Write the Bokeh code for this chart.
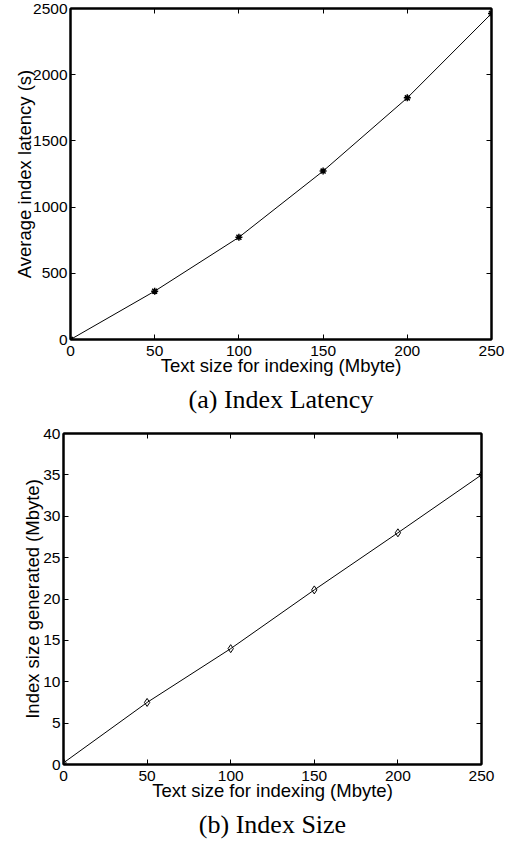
from bokeh.plotting import figure
from bokeh.models import LinearAxis, Title, FixedTicker, CustomJSTickFormatter, Range1d
from bokeh.embed import file_html
from bokeh.resources import INLINE

# ---- data ----
text_size = [0, 50, 100, 150, 200, 250]
latency = [0, 365, 772, 1272, 1825, 2462]
index_size = [0.2, 7.5, 14.0, 21.1, 28.0, 35.0]

x_ticks = [0, 50, 100, 150, 200, 250]
lat_ticks = [0, 500, 1000, 1500, 2000, 2500]
size_ticks = [0, 5, 10, 15, 20, 25, 30, 35, 40]

SANS = "Liberation Sans"
SERIF = "Liberation Serif"


def style_axis(ax, ticks, show_labels=True):
    ax.ticker = FixedTicker(ticks=ticks)
    ax.axis_line_width = 2
    ax.axis_line_color = "black"
    ax.major_tick_in = 5
    ax.major_tick_out = 0
    ax.major_tick_line_width = 1
    ax.minor_tick_in = 0
    ax.minor_tick_out = 0
    ax.major_label_text_font = SANS
    ax.major_label_text_color = "black"
    ax.axis_label_text_font = SANS
    ax.axis_label_text_font_style = "normal"
    ax.axis_label_text_color = "black"
    ax.axis_label_text_font_size = "18.5px"
    if show_labels:
        ax.major_label_text_font_size = "15.5px"
        ax.major_label_standoff = 6
    else:
        ax.formatter = CustomJSTickFormatter(code="return ''")
        ax.major_label_text_font_size = "0px"
        ax.major_label_standoff = 0
        ax.axis_label_standoff = 0


def make_fig(width, height, xr, yr, xt, yt, xlabel, ylabel, caption,
             bl, br, bt, ylab_standoff):
    p = figure(width=width, height=height, output_backend="svg",
               toolbar_location=None, x_range=Range1d(*xr), y_range=Range1d(*yr),
               min_border_left=bl, min_border_right=br, min_border_top=bt,
               min_border_bottom=0)
    p.xgrid.visible = False
    p.ygrid.visible = False
    p.outline_line_color = "black"
    p.outline_line_width = 2
    style_axis(p.xaxis[0], xt)
    style_axis(p.yaxis[0], yt)
    p.xaxis[0].axis_label = xlabel
    p.yaxis[0].axis_label = ylabel
    p.xaxis[0].axis_label_standoff = -4
    p.yaxis[0].axis_label_standoff = ylab_standoff
    p.yaxis[0].major_label_standoff = 3
    top = LinearAxis()
    right = LinearAxis()
    style_axis(top, xt, show_labels=False)
    style_axis(right, yt, show_labels=False)
    p.add_layout(top, "above")
    p.add_layout(right, "right")
    t = Title(text=caption, align="center", text_font=SERIF,
              text_font_size="26px", text_font_style="normal",
              text_color="black", standoff=9, offset=0)
    p.add_layout(t, "below")
    return p


p1 = make_fig(505, 418, (0, 250), (0, 2500), x_ticks, lat_ticks,
              "Text size for indexing (Mbyte)", "Average index latency (s)",
              "(a) Index Latency", 70, 14, 8, -5)
p1.line(text_size, latency, line_color="black", line_width=1)
p1.scatter(text_size, latency, marker="asterisk", size=7,
           line_color="black", line_width=1.5)

p2 = make_fig(505, 425, (0, 250), (0, 40), x_ticks, size_ticks,
              "Text size for indexing (Mbyte)", "Index size generated (Mbyte)",
              "(b) Index Size", 63, 24, 15, -3)
p2.line(text_size, index_size, line_color="black", line_width=1)
p2.scatter(text_size, index_size, marker="diamond", size=8,
           line_color="black", fill_color=None, line_width=1)

open("out.html", "w").write(file_html([p1, p2], INLINE))
